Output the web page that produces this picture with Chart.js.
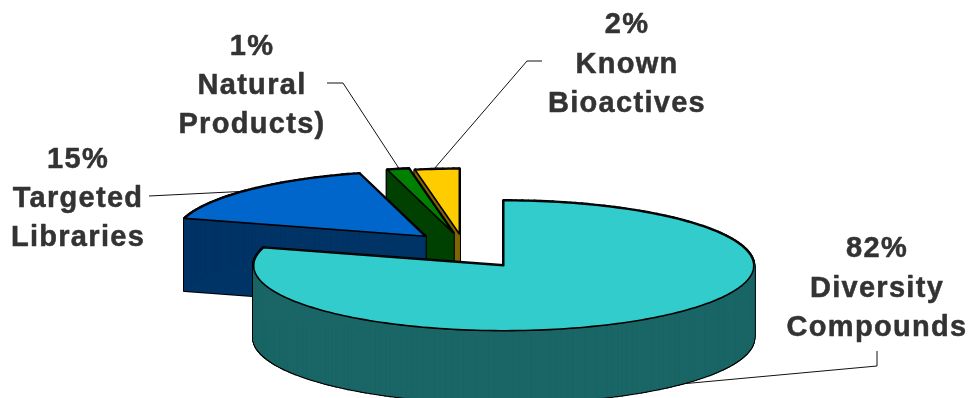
<!DOCTYPE html>
<html>
<head>
<meta charset="utf-8">
<style>
  html, body { margin: 0; padding: 0; background: #ffffff; overflow: hidden; }
  canvas { display: block; }
</style>
<script src="https://cdn.jsdelivr.net/npm/chart.js@4/dist/chart.umd.js"></script>
</head>
<body>
<canvas id="pie" width="971" height="398"></canvas>
<script>
// Compound library composition
const categories = ['Diversity Compounds', 'Targeted Libraries', 'Natural Products)', 'Known Bioactives'];
const percentages = [82, 15, 1, 2];
const labelLines = [['Diversity', 'Compounds'], ['Targeted', 'Libraries'], ['Natural', 'Products)'], ['Known', 'Bioactives']];

const topColors = ['#33CCCC', '#0066CC', '#008000', '#FFCC00'];
const wallColors = ['#1A6666', '#003366', '#004000', '#806600'];
const explode = [76, 62, 64, 58];

// View of the tilted pie
const TILT = 0.26;          // vertical squash of the disc
const DEPTH = 72;           // height of the extruded side wall
const PERSPECTIVE = 12;     // angular foreshortening, degrees

// Label blocks: centre x, first baseline, line step, leader polyline
const callouts = [
  { x: 877, y: 257, step: 39.5, leader: [[877, 351], [877, 366], [670, 385]] },
  { x: 78,  y: 168, step: 39,   leader: [[149, 196], [250, 191]] },
  { x: 252, y: 55,  step: 39,   leader: [[327, 83], [343, 83], [400, 170]] },
  { x: 627, y: 33,  step: 39.5, leader: [[542, 61], [527, 61], [434, 169]] }
];

const DEG = Math.PI / 180;

// Map a slice angle (0 = 12 o'clock, clockwise) onto the tilted ellipse
function project(theta, radius, cx, cy) {
  const phi = theta + PERSPECTIVE * DEG * Math.sin(2 * theta);
  return [cx + radius * Math.sin(phi), cy - radius * Math.cos(phi) * TILT];
}

function tracePolygon(ctx, pts, dy) {
  pts.forEach((p, i) => {
    if (i === 0) ctx.moveTo(p[0], p[1] + dy);
    else ctx.lineTo(p[0], p[1] + dy);
  });
  ctx.closePath();
}

function traceFace(ctx, a, b) {
  ctx.beginPath();
  ctx.moveTo(a[0], a[1]);
  ctx.lineTo(b[0], b[1]);
  ctx.lineTo(b[0], b[1] + DEPTH);
  ctx.lineTo(a[0], a[1] + DEPTH);
  ctx.closePath();
}

// Draws one arc element as an extruded, exploded wedge
function drawWedge(ctx, arc, index) {
  const { x, y, startAngle, endAngle, outerRadius } = arc.getProps(['x', 'y', 'startAngle', 'endAngle', 'outerRadius'], true);
  const a0 = startAngle + Math.PI / 2;
  const a1 = endAngle + Math.PI / 2;
  const mid = (a0 + a1) / 2;
  const shift = arc.options.offset;
  const cx = x + Math.sin(mid) * shift;
  const cy = y - Math.cos(mid) * shift * TILT;

  const pts = [[cx, cy]];
  const steps = Math.max(2, Math.ceil((a1 - a0) / DEG));
  for (let i = 0; i <= steps; i++) {
    pts.push(project(a0 + (a1 - a0) * i / steps, outerRadius, cx, cy));
  }

  ctx.lineJoin = 'round';

  // Black pass first: only the part outside the wall fill survives as the outline
  ctx.strokeStyle = '#000000';
  ctx.lineWidth = 3.2;
  pts.forEach((a, i) => {
    traceFace(ctx, a, pts[(i + 1) % pts.length]);
    ctx.stroke();
  });

  // Wall faces, each with a hairline of its own colour to close the seams
  ctx.fillStyle = wallColors[index];
  ctx.strokeStyle = wallColors[index];
  ctx.lineWidth = 1;
  pts.forEach((a, i) => {
    traceFace(ctx, a, pts[(i + 1) % pts.length]);
    ctx.fill();
    ctx.stroke();
  });

  // Top face
  ctx.beginPath();
  tracePolygon(ctx, pts, 0);
  ctx.fillStyle = arc.options.backgroundColor;
  ctx.fill();
  ctx.strokeStyle = '#000000';
  ctx.lineWidth = 1.6;
  ctx.stroke();
}

const pie3d = {
  id: 'pie3d',
  beforeDatasetsDraw(chart) {
    const ctx = chart.ctx;
    const arcs = chart.getDatasetMeta(0).data;
    ctx.save();
    ctx.beginPath();
    ctx.rect(0, 0, chart.width, chart.height);
    ctx.clip();
    // leader lines sit behind the wedges
    ctx.strokeStyle = '#111111';
    ctx.lineWidth = 1;
    callouts.forEach(c => {
      ctx.beginPath();
      c.leader.forEach((p, i) => i ? ctx.lineTo(p[0], p[1]) : ctx.moveTo(p[0], p[1]));
      ctx.stroke();
    });
    // back to front
    for (let i = arcs.length - 1; i >= 0; i--) drawWedge(ctx, arcs[i], i);
    ctx.restore();
    return false;
  },
  afterDraw(chart) {
    const ctx = chart.ctx;
    ctx.save();
    ctx.font = 'bold 29px "Liberation Sans", Arial, sans-serif';
    ctx.letterSpacing = '1.3px';
    ctx.textAlign = 'center';
    ctx.textBaseline = 'alphabetic';
    ctx.fillStyle = '#333333';
    ctx.strokeStyle = '#333333';
    ctx.lineWidth = 0.5;
    ctx.lineJoin = 'round';
    callouts.forEach((c, i) => {
      [percentages[i] + '%'].concat(labelLines[i]).forEach((line, j) => {
        ctx.fillText(line, c.x, c.y + j * c.step);
        ctx.strokeText(line, c.x, c.y + j * c.step);
      });
    });
    ctx.restore();
  }
};

new Chart(document.getElementById('pie'), {
  type: 'pie',
  data: {
    labels: categories,
    datasets: [{
      data: percentages,
      backgroundColor: topColors,
      offset: explode,
      borderWidth: 0
    }]
  },
  options: {
    responsive: false,
    animation: false,
    events: [],
    radius: 250,
    layout: { padding: { left: 0, right: 45, top: 100, bottom: 0 } },
    plugins: { legend: { display: false }, tooltip: { enabled: false } }
  },
  plugins: [pie3d]
});
</script>
</body>
</html>
